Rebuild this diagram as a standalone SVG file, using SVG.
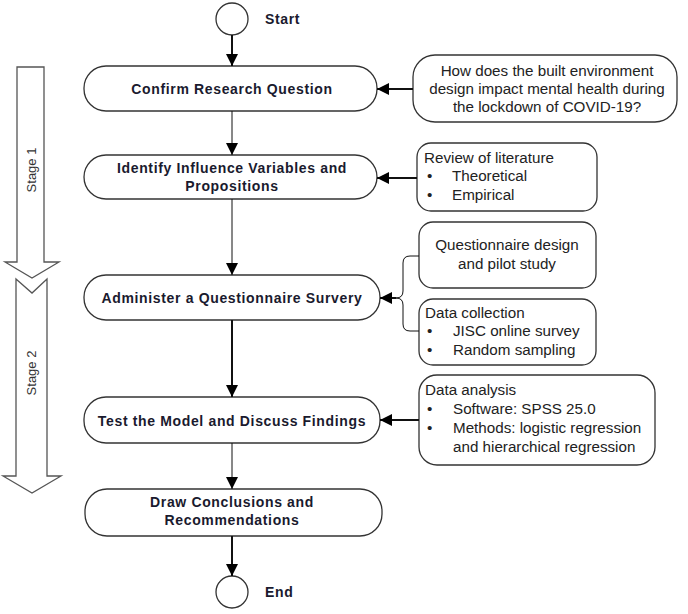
<svg xmlns="http://www.w3.org/2000/svg" width="688" height="614" viewBox="0 0 688 614">
<defs>
<style>
.box{fill:#fff;stroke:#333;stroke-width:1.3}
.stage{fill:#fff;stroke:#555;stroke-width:1.3}
.mt{font-family:"Liberation Sans",Arial,sans-serif;font-weight:bold;font-size:14px;letter-spacing:0.65px;fill:#1a1a2e;text-anchor:middle}
.rt{font-family:"Liberation Sans",Arial,sans-serif;font-size:15.2px;fill:#222}
.st{font-family:"Liberation Sans",Arial,sans-serif;font-size:13px;fill:#333;text-anchor:middle}
.c1{stroke:#111;stroke-width:1;fill:none}
.c2{stroke:#111;stroke-width:2;fill:none}
</style>
<marker id="ahb" viewBox="0 0 10 10" refX="10" refY="5" markerWidth="14" markerHeight="12" markerUnits="userSpaceOnUse" orient="auto">
<path d="M0,0 L10,5 L0,10 Z" fill="#000"/>
</marker>
</defs>
<rect width="688" height="614" fill="#fff"/>

<g id="stage1">
<path class="stage" d="M17,67 H44 V262 H59 L32,278 L5,262 H17 Z"/>
<text class="st" transform="translate(36,170) rotate(-90)">Stage 1</text>
</g>
<g id="stage2">
<path class="stage" d="M16,279 L32,293 L47,279 V476 H61 L32,493 L3,476 H16 Z"/>
<text class="st" transform="translate(36,373) rotate(-90)">Stage 2</text>
</g>

<g id="start">
<circle cx="232" cy="19" r="16" class="box"/>
<text class="mt" x="265" y="24" style="text-anchor:start">Start</text>
</g>
<g id="n1">
<rect class="box" x="84" y="66" width="293" height="45" rx="22"/>
<text class="mt" x="232" y="94">Confirm Research Question</text>
</g>
<g id="n2">
<rect class="box" x="84" y="155" width="293" height="44" rx="22"/>
<text class="mt" x="232" y="173">Identify Influence Variables and</text>
<text class="mt" x="232" y="191">Propositions</text>
</g>
<g id="n3">
<rect class="box" x="84" y="275" width="296" height="45" rx="22"/>
<text class="mt" x="232" y="303">Administer a Questionnaire Survery</text>
</g>
<g id="n4">
<rect class="box" x="84" y="397" width="296" height="46" rx="22"/>
<text class="mt" x="232" y="426">Test the Model and Discuss Findings</text>
</g>
<g id="n5">
<rect class="box" x="85" y="489" width="297" height="47" rx="22"/>
<text class="mt" x="232" y="507">Draw Conclusions and</text>
<text class="mt" x="232" y="525">Recommendations</text>
</g>
<g id="end">
<circle cx="232" cy="592" r="16" class="box"/>
<text class="mt" x="265" y="597" style="text-anchor:start">End</text>
</g>

<g id="q">
<rect class="box" x="413" y="55" width="264" height="67" rx="22"/>
<text class="rt" x="547" y="76" text-anchor="middle">How does the built environment</text>
<text class="rt" x="547" y="94" text-anchor="middle">design impact mental health during</text>
<text class="rt" x="547" y="112" text-anchor="middle">the lockdown of COVID-19?</text>
</g>
<g id="review">
<rect class="box" x="417" y="143" width="180" height="68" rx="14"/>
<text class="rt" x="424" y="163">Review of literature</text>
<text class="rt" x="427" y="181">•</text><text class="rt" x="452" y="181">Theoretical</text>
<text class="rt" x="427" y="200">•</text><text class="rt" x="452" y="200">Empirical</text>
</g>
<g id="qd">
<rect class="box" x="419" y="222" width="177" height="66" rx="14"/>
<text class="rt" x="507" y="250" text-anchor="middle">Questionnaire design</text>
<text class="rt" x="507" y="269" text-anchor="middle">and pilot study</text>
</g>
<g id="dc">
<rect class="box" x="419" y="299" width="177" height="66" rx="14"/>
<text class="rt" x="425" y="318">Data collection</text>
<text class="rt" x="427" y="336">•</text><text class="rt" x="453" y="336">JISC online survey</text>
<text class="rt" x="427" y="355">•</text><text class="rt" x="453" y="355">Random sampling</text>
</g>
<g id="da">
<rect class="box" x="419" y="375" width="236" height="90" rx="18"/>
<text class="rt" x="425" y="395">Data analysis</text>
<text class="rt" x="427" y="414">•</text><text class="rt" x="453" y="414">Software: SPSS 25.0</text>
<text class="rt" x="427" y="433">•</text><text class="rt" x="453" y="433">Methods: logistic regression</text>
<text class="rt" x="453" y="452">and hierarchical regression</text>
</g>

<g id="connectors">
<path class="c2" d="M232,35 V66" marker-end="url(#ahb)"/>
<path class="c1" d="M232,111 V155" marker-end="url(#ahb)"/>
<path class="c1" d="M232,199 V275" marker-end="url(#ahb)"/>
<path class="c2" d="M232,320 V397" marker-end="url(#ahb)"/>
<path class="c1" d="M232,443 V489" marker-end="url(#ahb)"/>
<path class="c2" d="M232,536 V576" marker-end="url(#ahb)"/>
<path class="c2" d="M413,89 H377" marker-end="url(#ahb)"/>
<path class="c2" d="M417,178 H377" marker-end="url(#ahb)"/>
<path class="c1" d="M419,256 H410 Q403,256 403,263 V291 Q403,298 396,298 Q403,298 403,305 V324 Q403,331 410,331 H419"/>
<path class="c2" d="M396,298 H380" marker-end="url(#ahb)"/>
<path class="c2" d="M419,420 H380" marker-end="url(#ahb)"/>
</g>
</svg>
